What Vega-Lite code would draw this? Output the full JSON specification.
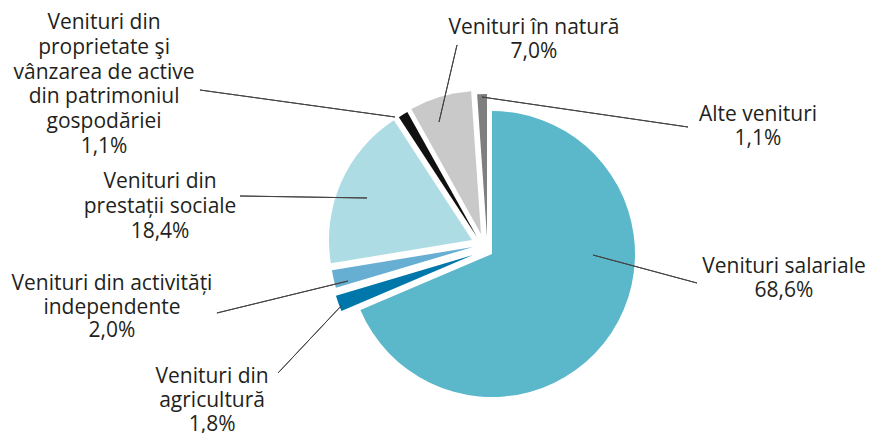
{
  "$schema": "https://vega.github.io/schema/vega-lite/v6.json",
  "width": 778,
  "height": 376,
  "autosize": {"type": "none"},
  "padding": {"left": 91, "top": 57, "right": 0, "bottom": 0},
  "background": "white",
  "config": {"view": {"stroke": null}},
  "data": {
    "values": [
      {"category": "Venituri salariale", "value": 68.6, "label": "Venituri salariale\n68,6%"},
      {"category": "Venituri din agricultură", "value": 1.8, "label": "Venituri din\nagricultură\n1,8%"},
      {"category": "Venituri din activități independente", "value": 2.0, "label": "Venituri din activități\nindependente\n2,0%"},
      {"category": "Venituri din prestații sociale", "value": 18.4, "label": "Venituri din\nprestații sociale\n18,4%"},
      {"category": "Venituri din proprietate şi vânzarea de active din patrimoniul gospodăriei", "value": 1.1, "label": "Venituri din\nproprietate şi\nvânzarea de active\ndin patrimoniul\ngospodăriei\n1,1%"},
      {"category": "Venituri în natură", "value": 7.0, "label": "Venituri în natură\n7,0%"},
      {"category": "Alte venituri", "value": 1.1, "label": "Alte venituri\n1,1%"}
    ]
  },
  "transform": [{"stack": "value", "groupby": [], "as": ["v0", "v1"]}],
  "encoding": {
    "theta": {"field": "v0", "type": "quantitative", "scale": {"domain": [0, 100]}}
  },
  "layer": [
    {"transform": [{"filter": {"field": "category", "equal": "Venituri salariale"}}],
     "mark": {"type": "arc", "radius": 143, "xOffset": 12, "yOffset": 9, "color": "#5BB7CA"},
     "encoding": {"theta2": {"field": "v1"}}},
    {"transform": [{"filter": {"field": "category", "equal": "Venituri din agricultură"}}],
     "mark": {"type": "arc", "radius": 143, "xOffset": -7, "yOffset": 10, "color": "#0077AA"},
     "encoding": {"theta2": {"field": "v1"}}},
    {"transform": [{"filter": {"field": "category", "equal": "Venituri din activități independente"}}],
     "mark": {"type": "arc", "radius": 143, "xOffset": -7, "yOffset": 2, "color": "#67AED3"},
     "encoding": {"theta2": {"field": "v1"}}},
    {"transform": [{"filter": {"field": "category", "equal": "Venituri din prestații sociale"}}],
     "mark": {"type": "arc", "radius": 143, "xOffset": -8, "yOffset": -5, "color": "#ADDCE5"},
     "encoding": {"theta2": {"field": "v1"}}},
    {"transform": [{"filter": {"field": "category", "equal": "Venituri din proprietate şi vânzarea de active din patrimoniul gospodăriei"}}],
     "mark": {"type": "arc", "radius": 143, "xOffset": -3, "yOffset": -8, "color": "#111111"},
     "encoding": {"theta2": {"field": "v1"}}},
    {"transform": [{"filter": {"field": "category", "equal": "Venituri în natură"}}],
     "mark": {"type": "arc", "radius": 143, "xOffset": 1, "yOffset": -11, "color": "#C9C9C9"},
     "encoding": {"theta2": {"field": "v1"}}},
    {"transform": [{"filter": {"field": "category", "equal": "Alte venituri"}}],
     "mark": {"type": "arc", "radius": 143, "xOffset": 7, "yOffset": -8, "color": "#7F7F7F"},
     "encoding": {"theta2": {"field": "v1"}}},

    {"transform": [{"filter": {"field": "category", "equal": "Venituri salariale"}}],
     "mark": {"type": "arc", "filled": false, "color": "#444444", "strokeWidth": 1, "radius": 107.7, "radius2": 0, "thetaOffset": 1.8338, "theta2Offset": 1.8338, "xOffset": 113, "yOffset": 10},
     "encoding": {"theta2": {"field": "v0"}}},
    {"transform": [{"filter": {"field": "category", "equal": "Alte venituri"}}],
     "mark": {"type": "arc", "filled": false, "color": "#444444", "strokeWidth": 1, "radius": 208.2, "radius2": 0, "thetaOffset": 1.7846, "theta2Offset": 1.7846, "xOffset": 2, "yOffset": -148},
     "encoding": {"theta2": {"field": "v0"}}},
    {"transform": [{"filter": {"field": "category", "equal": "Venituri în natură"}}],
     "mark": {"type": "arc", "filled": false, "color": "#444444", "strokeWidth": 1, "radius": 79.1, "radius2": 0, "thetaOffset": 0.7386, "theta2Offset": 0.7386, "xOffset": -41, "yOffset": -123},
     "encoding": {"theta2": {"field": "v0"}}},
    {"transform": [{"filter": {"field": "category", "equal": "Venituri din proprietate şi vânzarea de active din patrimoniul gospodăriei"}}],
     "mark": {"type": "arc", "filled": false, "color": "#444444", "strokeWidth": 1, "radius": 196.9, "radius2": 0, "thetaOffset": -0.8552, "theta2Offset": -0.8552, "xOffset": -85, "yOffset": -128},
     "encoding": {"theta2": {"field": "v0"}}},
    {"transform": [{"filter": {"field": "category", "equal": "Venituri din prestații sociale"}}],
     "mark": {"type": "arc", "filled": false, "color": "#444444", "strokeWidth": 1, "radius": 127, "radius2": 0, "thetaOffset": 0.1791, "theta2Offset": 0.1791, "xOffset": -113, "yOffset": -47},
     "encoding": {"theta2": {"field": "v0"}}},
    {"transform": [{"filter": {"field": "category", "equal": "Venituri din activități independente"}}],
     "mark": {"type": "arc", "filled": false, "color": "#444444", "strokeWidth": 1, "radius": 134.9, "radius2": 0, "thetaOffset": 0.0496, "theta2Offset": 0.0496, "xOffset": -132, "yOffset": 36},
     "encoding": {"theta2": {"field": "v0"}}},
    {"transform": [{"filter": {"field": "category", "equal": "Venituri din agricultură"}}],
     "mark": {"type": "arc", "filled": false, "color": "#444444", "strokeWidth": 1, "radius": 93.4, "radius2": 0, "thetaOffset": -0.4136, "theta2Offset": -0.4136, "xOffset": -138, "yOffset": 60},
     "encoding": {"theta2": {"field": "v0"}}},

    {"transform": [{"filter": {"field": "category", "equal": "Venituri salariale"}}],
     "mark": {"type": "text", "radius": 304.8, "thetaOffset": 1.6430, "align": "center", "baseline": "middle", "lineBreak": "\n", "font": "Open Sans", "fontSize": 21, "lineHeight": 24, "color": "#231F20"},
     "encoding": {"text": {"field": "label"}}},
    {"transform": [{"filter": {"field": "category", "equal": "Alte venituri"}}],
     "mark": {"type": "text", "radius": 306.9, "thetaOffset": 1.2025, "align": "center", "baseline": "middle", "lineBreak": "\n", "font": "Open Sans", "fontSize": 21, "lineHeight": 24, "color": "#231F20"},
     "encoding": {"text": {"field": "label"}}},
    {"transform": [{"filter": {"field": "category", "equal": "Venituri în natură"}}],
     "mark": {"type": "text", "radius": 223.6, "thetaOffset": 0.7528, "align": "center", "baseline": "middle", "lineBreak": "\n", "font": "Open Sans", "fontSize": 21, "lineHeight": 24, "color": "#231F20"},
     "encoding": {"text": {"field": "label"}}},
    {"transform": [{"filter": {"field": "category", "equal": "Venituri din proprietate şi vânzarea de active din patrimoniul gospodăriei"}}],
     "mark": {"type": "text", "radius": 436.6, "thetaOffset": -0.4594, "align": "center", "baseline": "middle", "lineBreak": "\n", "font": "Open Sans", "fontSize": 21, "lineHeight": 24.8, "color": "#231F20"},
     "encoding": {"text": {"field": "label"}}},
    {"transform": [{"filter": {"field": "category", "equal": "Venituri din prestații sociale"}}],
     "mark": {"type": "text", "radius": 326.1, "thetaOffset": 0.3578, "align": "center", "baseline": "middle", "lineBreak": "\n", "font": "Open Sans", "fontSize": 21, "lineHeight": 24.8, "color": "#231F20"},
     "encoding": {"text": {"field": "label"}}},
    {"transform": [{"filter": {"field": "category", "equal": "Venituri din activități independente"}}],
     "mark": {"type": "text", "radius": 370.1, "thetaOffset": 0.1834, "align": "center", "baseline": "middle", "lineBreak": "\n", "font": "Open Sans", "fontSize": 21, "lineHeight": 23.5, "color": "#231F20"},
     "encoding": {"text": {"field": "label"}}},
    {"transform": [{"filter": {"field": "category", "equal": "Venituri din agricultură"}}],
     "mark": {"type": "text", "radius": 298.7, "thetaOffset": -0.0560, "align": "center", "baseline": "middle", "lineBreak": "\n", "font": "Open Sans", "fontSize": 21, "lineHeight": 24, "color": "#231F20"},
     "encoding": {"text": {"field": "label"}}}
  ]
}
